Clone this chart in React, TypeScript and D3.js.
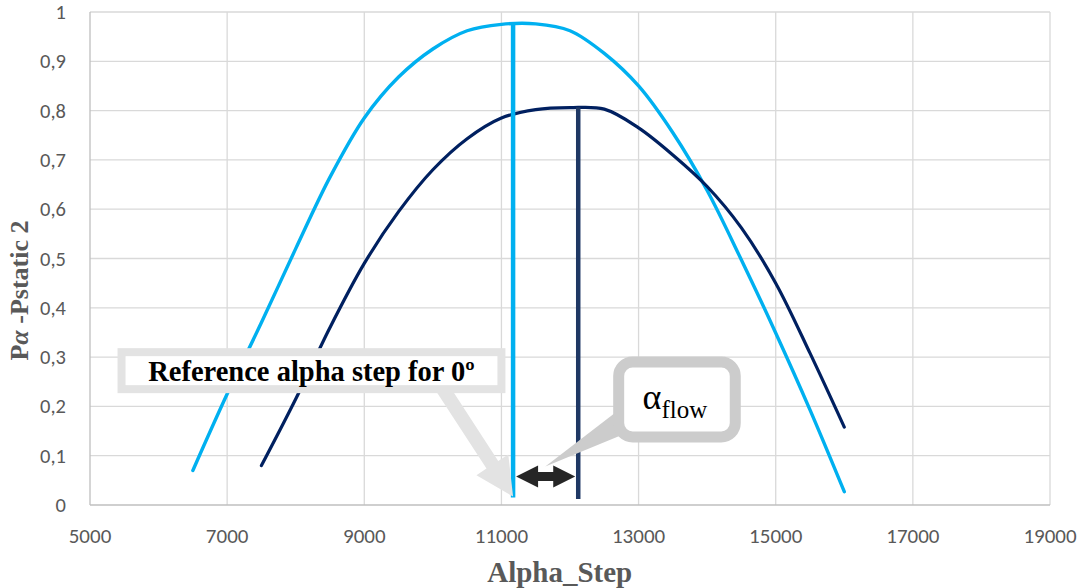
import { useEffect, useRef } from 'react';
import * as d3 from 'd3';

// data
const refSteps = [6500, 7000, 7500, 8000, 8500, 9000, 9500, 10000, 10500, 11000, 11500, 12000, 12500, 13000, 13500, 14000, 14500, 15000, 15500, 16000];
const refValues = [0.07, 0.225, 0.37, 0.52, 0.665, 0.785, 0.868, 0.925, 0.962, 0.975, 0.976, 0.962, 0.916, 0.85, 0.755, 0.638, 0.497, 0.349, 0.193, 0.027];
const flowSteps = [7500, 8000, 8500, 9000, 9500, 10000, 10500, 11000, 11500, 12000, 12500, 13000, 13500, 14000, 14500, 15000, 15500, 16000];
const flowValues = [0.08, 0.215, 0.36, 0.49, 0.595, 0.68, 0.743, 0.785, 0.802, 0.806, 0.803, 0.765, 0.71, 0.646, 0.562, 0.45, 0.308, 0.158];

const xTicks = [5000, 7000, 9000, 11000, 13000, 15000, 17000, 19000];
const yTicks = [0, 0.1, 0.2, 0.3, 0.4, 0.5, 0.6, 0.7, 0.8, 0.9, 1];

const refStep = 11170;
const flowStep = 12120;

const LIGHT = '#00B0F0';
const DARK = '#002060';
const MARK_DARK = '#1F3864';
const TICK_FONT = 'Carlito, Lato, "Open Sans", sans-serif';
const SERIF = '"Liberation Serif", "DejaVu Serif", serif';

export default function App() {
  const svgRef = useRef<SVGSVGElement>(null);

  useEffect(() => {
    if (!svgRef.current) return;
    const width = 1081, height = 588;
    const svg = d3.select(svgRef.current);
    svg.selectAll('*').remove();
    svg.attr('width', width).attr('height', height);

    const x = d3.scaleLinear().domain([5000, 19000]).range([90, 1050]);
    const y = d3.scaleLinear().domain([0, 1]).range([505, 12]);

    // grid
    svg.append('g').selectAll('line').data(xTicks.slice(1)).join('line')
      .attr('x1', d => x(d)).attr('x2', d => x(d)).attr('y1', y(1)).attr('y2', y(0))
      .attr('stroke', '#D9D9D9').attr('stroke-width', 1.3);
    svg.append('g').selectAll('line').data(yTicks.slice(1)).join('line')
      .attr('x1', x(5000)).attr('x2', x(19000)).attr('y1', d => y(d)).attr('y2', d => y(d))
      .attr('stroke', '#D9D9D9').attr('stroke-width', 1.3);
    // axis lines
    svg.append('line').attr('x1', x(5000)).attr('x2', x(5000)).attr('y1', y(1)).attr('y2', y(0))
      .attr('stroke', '#BFBFBF').attr('stroke-width', 1.3);
    svg.append('line').attr('x1', x(5000)).attr('x2', x(19000)).attr('y1', y(0)).attr('y2', y(0))
      .attr('stroke', '#BFBFBF').attr('stroke-width', 1.5);

    // tick labels
    const fmt = (d: number) => (d === 0 || d === 1 ? String(d) : d.toFixed(1).replace('.', ','));
    svg.append('g').selectAll('text').data(yTicks).join('text')
      .attr('x', 66).attr('y', d => y(d) + 7).attr('text-anchor', 'end')
      .attr('font-family', TICK_FONT).attr('font-size', 20.5).attr('fill', '#595959')
      .text(fmt);
    svg.append('g').selectAll('text').data(xTicks).join('text')
      .attr('x', d => x(d)).attr('y', 543).attr('text-anchor', 'middle')
      .attr('font-family', TICK_FONT).attr('font-size', 21).attr('fill', '#595959')
      .text(d => String(d));

    // axis titles
    svg.append('text').attr('x', x(11850)).attr('y', 582).attr('text-anchor', 'middle')
      .attr('font-family', SERIF).attr('font-weight', 'bold').attr('font-size', 29).attr('fill', '#595959')
      .text('Alpha_Step');
    const yt = svg.append('text').attr('transform', `translate(28,${y(0.435)}) rotate(-90)`)
      .attr('text-anchor', 'middle')
      .attr('font-family', SERIF).attr('font-weight', 'bold').attr('font-size', 26).attr('fill', '#595959');
    yt.append('tspan').text('P');
    yt.append('tspan').attr('font-style', 'italic').text('α');
    yt.append('tspan').text(' -Pstatic 2');

    // series
    const line = d3.line<[number, number]>().x(d => x(d[0])).y(d => y(d[1])).curve(d3.curveCatmullRom.alpha(0.5));
    svg.append('path').datum(refSteps.map((s, i) => [s, refValues[i]] as [number, number]))
      .attr('d', line).attr('fill', 'none').attr('stroke', LIGHT).attr('stroke-width', 3.4).attr('stroke-linecap', 'round');
    svg.append('path').datum(flowSteps.map((s, i) => [s, flowValues[i]] as [number, number]))
      .attr('d', line).attr('fill', 'none').attr('stroke', DARK).attr('stroke-width', 3.2).attr('stroke-linecap', 'round');

    // vertical markers
    svg.append('line').attr('x1', x(refStep)).attr('x2', x(refStep)).attr('y1', y(0.978)).attr('y2', y(0.015))
      .attr('stroke', LIGHT).attr('stroke-width', 4.5);
    svg.append('line').attr('x1', x(flowStep)).attr('x2', x(flowStep)).attr('y1', y(0.807)).attr('y2', y(0.012))
      .attr('stroke', MARK_DARK).attr('stroke-width', 4.5);

    // double arrow
    const ay = y(0.058);
    const a0 = x(refStep) + 3, a1 = x(flowStep) - 3;
    const hw = 22, hh = 11, sh = 4.5;
    svg.append('polygon')
      .attr('points', [
        [a0, ay], [a0 + hw, ay - hh], [a0 + hw, ay - sh], [a1 - hw, ay - sh], [a1 - hw, ay - hh], [a1, ay],
        [a1 - hw, ay + hh], [a1 - hw, ay + sh], [a0 + hw, ay + sh], [a0 + hw, ay + hh],
      ].map(p => p.join(',')).join(' '))
      .attr('fill', '#262626');

    // callout 1: reference step
    const b1 = { x0: x(5460), x1: x(11000), y0: y(0.31), y1: y(0.235) };
    const tipX = x(refStep), tipY = y(0.017);
    const sx = x(10150), sy = b1.y1;
    const ang = Math.atan2(tipY - sy, tipX - sx);
    const nx = -Math.sin(ang), ny = Math.cos(ang);
    const len = Math.hypot(tipX - sx, tipY - sy);
    const bx = sx + Math.cos(ang) * (len - 38), by = sy + Math.sin(ang) * (len - 38);
    const sw = 7, hw2 = 19;
    svg.append('polygon')
      .attr('points', [
        [sx + nx * sw, sy + ny * sw], [bx + nx * sw, by + ny * sw], [bx + nx * hw2, by + ny * hw2], [tipX, tipY],
        [bx - nx * hw2, by - ny * hw2], [bx - nx * sw, by - ny * sw], [sx - nx * sw, sy - ny * sw],
      ].map(p => p.join(',')).join(' '))
      .attr('fill', '#E3E3E3');
    svg.append('rect').attr('x', b1.x0).attr('y', b1.y0).attr('width', b1.x1 - b1.x0).attr('height', b1.y1 - b1.y0)
      .attr('fill', '#fff').attr('stroke', '#E3E3E3').attr('stroke-width', 8);
    svg.append('text').attr('x', (b1.x0 + b1.x1) / 2).attr('y', (b1.y0 + b1.y1) / 2 + 10).attr('text-anchor', 'middle')
      .attr('font-family', SERIF).attr('font-weight', 'bold').attr('font-size', 28.5).attr('fill', '#000')
      .text('Reference alpha step for 0º');

    // callout 2: alpha flow
    const b2 = { x0: x(12710), x1: x(14410), y0: y(0.29), y1: y(0.138) };
    svg.append('polygon')
      .attr('points', [[b2.x0 + 4, b2.y1 - 30], [b2.x0 + 8, b2.y1 - 4], [x(11640), y(0.078)]].map(p => p.join(',')).join(' '))
      .attr('fill', '#CCCCCC');
    svg.append('rect').attr('x', b2.x0).attr('y', b2.y0).attr('width', b2.x1 - b2.x0).attr('height', b2.y1 - b2.y0)
      .attr('rx', 14).attr('fill', '#fff').attr('stroke', '#CCCCCC').attr('stroke-width', 11);
    const t2 = svg.append('text').attr('x', (b2.x0 + b2.x1) / 2 - 2).attr('y', (b2.y0 + b2.y1) / 2 + 10)
      .attr('text-anchor', 'middle').attr('font-family', SERIF).attr('fill', '#000');
    t2.append('tspan').attr('font-size', 36).text('α');
    t2.append('tspan').attr('font-size', 25).attr('dy', 9).text('flow');
  }, []);

  return <svg ref={svgRef} style={{ position: 'absolute', left: 0, top: 0, background: '#fff' }} />;
}
